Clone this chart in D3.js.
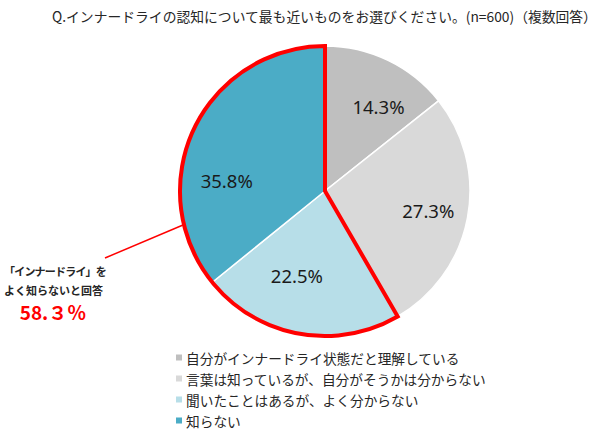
<!DOCTYPE html>
<html><head><meta charset="utf-8">
<script src="https://cdn.jsdelivr.net/npm/d3@7"></script>
<style>body{margin:0;background:#fff}svg{display:block}</style>
</head><body>
<svg id="c" width="600" height="433"></svg>
<script>
const categories = ["自分がインナードライ状態だと理解している","言葉は知っているが、自分がそうかは分からない","聞いたことはあるが、よく分からない","知らない"];
const values = [14.3, 27.3, 22.5, 35.8];
const valueLabels = ["14.3%","27.3%","22.5%","35.8%"];
const colors = ["#BFBFBF","#D9D9D9","#B7DEE8","#4BACC6"];
const title = "Q.インナードライの認知について最も近いものをお選びください。(n=600)（複数回答）";
const noteLines = ["「インナードライ」を","よく知らないと回答"];
const noteValue = "58.３％";
const highlighted = [2, 3];

const svg = d3.select("#c");
const cx = 325, cy = 191, R = 145;
const JP = "'Noto Sans CJK JP','Noto Sans',sans-serif";

svg.append("text").attr("x", 52).attr("y", 22).attr("font-family", JP)
  .attr("font-size", 13.8).attr("fill", "#262626").text(title);

const pie = d3.pie().sort(null).value(d => d)(values);
const arc = d3.arc().innerRadius(0).outerRadius(R);
const g = svg.append("g").attr("transform", `translate(${cx},${cy})`);
g.selectAll("path.s").data(pie).join("path").attr("class","s")
  .attr("d", arc).attr("fill", (d,i) => colors[i])
  .attr("stroke", "#fff").attr("stroke-width", 1.5);

// highlight outline for union of highlighted slices
const hStart = pie[highlighted[0]].startAngle, hEnd = pie[highlighted[highlighted.length-1]].endAngle;
g.append("path").attr("d", d3.arc().innerRadius(0).outerRadius(R)({startAngle: hStart, endAngle: hEnd}))
  .attr("fill", "none").attr("stroke", "#FF0000").attr("stroke-width", 4).attr("stroke-linejoin","miter");

// labels
const labelArc = d3.arc().innerRadius(100).outerRadius(100);
const labelNudge = [[10,6],[5,1],[-10,-14],[-8,33]];
g.selectAll("text.v").data(pie).join("text").attr("class","v")
  .attr("transform", (d,i) => { const c = labelArc.centroid(d); return `translate(${c[0]+labelNudge[i][0]},${c[1]+labelNudge[i][1]})`; })
  .attr("text-anchor","middle").attr("dominant-baseline","central")
  .attr("font-family", "'Noto Sans',sans-serif").attr("font-size", 18.5).attr("fill", "#1a1a1a")
  .text((d,i) => valueLabels[i]);

// annotation line
svg.append("line").attr("x1", 105).attr("y1", 258).attr("x2", 183).attr("y2", 225)
  .attr("stroke", "#FF0000").attr("stroke-width", 1.5);

svg.selectAll("text.n").data(noteLines).join("text").attr("class","n")
  .attr("x", 4).attr("y", (d,i) => 276 + i*19).attr("font-family", JP).attr("font-weight", "bold")
  .attr("font-size", 11).attr("fill", "#262626").attr("letter-spacing", (d,i) => i === 0 ? -0.8 : 0).text(d => d);
svg.append("text").attr("x", 53).attr("y", 320).attr("text-anchor","middle").attr("font-family", JP)
  .attr("font-weight","bold").attr("font-size", 19).attr("fill","#FF0000").text(noteValue);

// legend
const lg = svg.append("g");
const rowY = d3.scaleBand().domain(d3.range(categories.length)).range([347, 431]);
categories.forEach((c,i) => {
  const y = rowY(i) + rowY.bandwidth()/2;
  lg.append("rect").attr("x", 176).attr("y", y-3).attr("width", 6).attr("height", 6).attr("fill", colors[i]);
  lg.append("text").attr("x", 186).attr("y", y).attr("dominant-baseline","central")
    .attr("font-family", JP).attr("font-size", 13.7).attr("fill", "#262626").text(c);
});
</script>
</body></html>
